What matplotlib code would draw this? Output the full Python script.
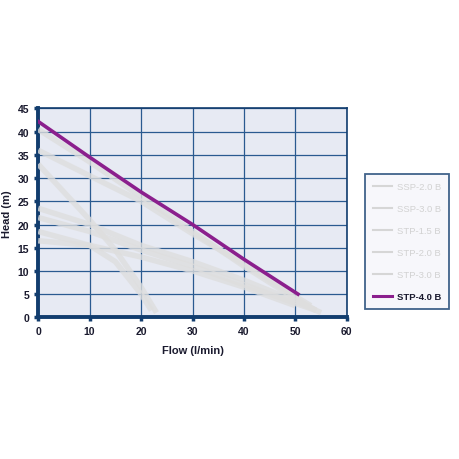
import matplotlib
matplotlib.use("Agg")
import matplotlib.pyplot as plt
from matplotlib.lines import Line2D

plt.rcParams['font.family'] = ['Liberation Sans', 'DejaVu Sans']

# Series data (flow l/min, head m)
ssp20_flow = [0, 10, 20, 30, 40, 50, 54]
ssp20_head = [40.5, 33.5, 26.0, 18.5, 11.0, 4.0, 1.5]

ssp30_flow = [0, 10, 20, 30, 40, 50, 53]
ssp30_head = [36.0, 30.5, 25.0, 18.0, 11.5, 4.5, 2.5]

stp15_flow = [0, 5, 10, 15, 20, 23]
stp15_head = [33.0, 27.0, 21.0, 14.5, 6.5, 1.0]

stp20_flow = [0, 10, 20, 30, 40, 50, 55]
stp20_head = [23.5, 20.0, 15.5, 12.0, 8.0, 3.5, 1.0]

stp30_flow = [0, 10, 15, 20, 22]
stp30_head = [18.5, 15.5, 12.0, 5.0, 1.5]

extra1_flow = [0, 10, 20, 30, 40, 50, 54]
extra1_head = [21.5, 18.5, 14.5, 11.0, 7.0, 3.0, 1.5]

extra2_flow = [0, 10, 20, 30, 40, 50]
extra2_head = [16.5, 15.5, 13.0, 10.0, 6.5, 2.5]

stp40_flow = [0, 10, 20, 30, 40, 50.5]
stp40_head = [42.2, 34.5, 27.0, 20.0, 12.5, 5.0]

xticks = [0, 10, 20, 30, 40, 50, 60]
yticks = [0, 5, 10, 15, 20, 25, 30, 35, 40, 45]

gray_labels = ["SSP-2.0 B", "SSP-3.0 B", "STP-1.5 B", "STP-2.0 B", "STP-3.0 B"]
purple_label = "STP-4.0 B"

navy = '#123d6e'
gridc = '#2a5a90'
grayc = '#dedede'
purple = '#8b1f8d'

fig = plt.figure(figsize=(4.6, 4.6), dpi=100)
ax = fig.add_axes([0.083, 0.308, 0.671, 0.454])
ax.set_facecolor('#e7eaf3')

gray_series = [(ssp20_flow, ssp20_head), (ssp30_flow, ssp30_head),
               (stp15_flow, stp15_head), (stp20_flow, stp20_head),
               (stp30_flow, stp30_head),
               (extra1_flow, extra1_head), (extra2_flow, extra2_head)]
for fx, hy in gray_series:
    ax.plot(fx, hy, color=grayc, lw=4.0, alpha=0.8, solid_capstyle='butt', zorder=3)
ax.plot(stp40_flow, stp40_head, color=purple, lw=2.6, zorder=4)

handles = [Line2D([], [], color='#d6d6d6', lw=1.5) for _ in gray_labels]
handles.append(Line2D([], [], color=purple, lw=2.2))

ax.set_xlim(0, 60)
ax.set_ylim(0, 45)
ax.set_xticks(xticks)
ax.set_yticks(yticks)
ax.grid(True, color=gridc, lw=0.9, zorder=1)
ax.set_axisbelow(True)
for s in ax.spines.values():
    s.set_color(navy)
    s.set_linewidth(1.2)
ax.spines['left'].set_linewidth(2.8)
ax.spines['bottom'].set_linewidth(2.8)
ax.tick_params(axis='both', colors=navy, direction='out', length=3, width=2.5,
               labelsize=7.5, labelcolor='#1a1a2e')
for t in ax.get_xticklabels() + ax.get_yticklabels():
    t.set_fontweight('bold')
ax.set_xlabel("Flow (l/min)", fontsize=8, fontweight='bold', color='#1a1a2e', labelpad=6)
ax.set_ylabel("Head (m)", fontsize=8, fontweight='bold', color='#1a1a2e', labelpad=4)

leg = fig.legend(handles, gray_labels + [purple_label], loc='center',
                 bbox_to_anchor=(0.885, 0.472), fontsize=6.8, frameon=True,
                 handlelength=2.0, handletextpad=0.5, labelspacing=1.38,
                 borderpad=0.85, borderaxespad=0, fancybox=False)
leg.get_frame().set_edgecolor(navy)
leg.get_frame().set_linewidth(1.3)
leg.get_frame().set_facecolor('#f5f6fa')
for i, t in enumerate(leg.get_texts()):
    if i < 5:
        t.set_color('#d2d2d2')
    else:
        t.set_color('#1a1a2e')
        t.set_fontweight('bold')

fig.savefig("out.png", dpi=100, facecolor='white')
